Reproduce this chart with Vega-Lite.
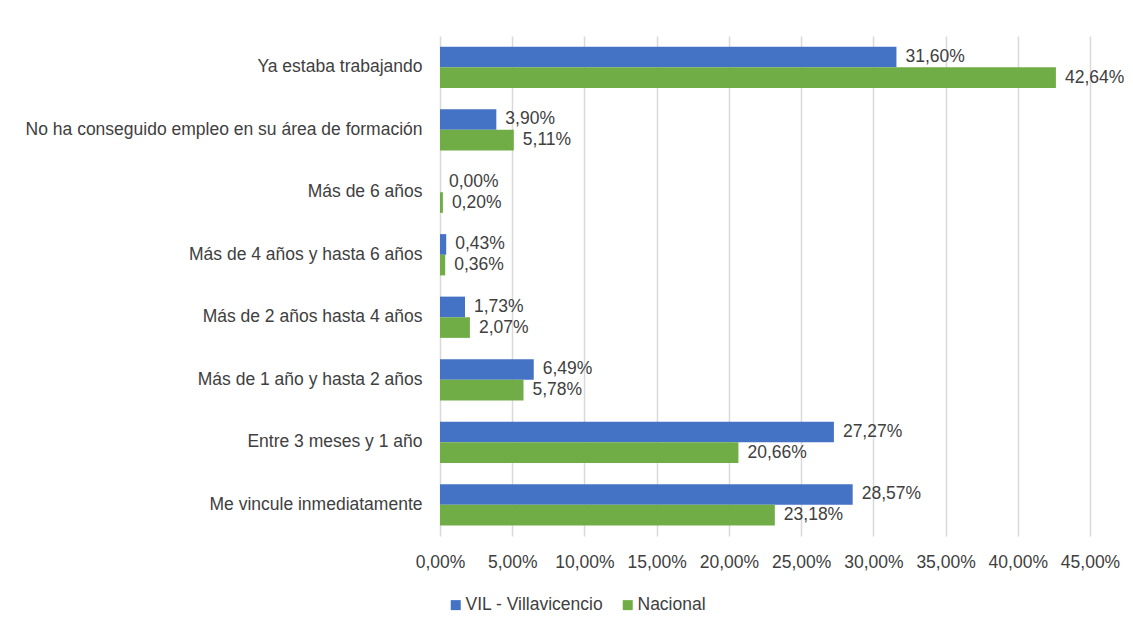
{
  "$schema": "https://vega.github.io/schema/vega-lite/v6.json",
  "autosize": "none",
  "width": 650,
  "height": 500,
  "padding": {"left": 440, "top": 36, "right": 43, "bottom": 98},
  "background": "white",
  "config": {
    "view": {"stroke": null},
    "locale": {"number": {"decimal": ",", "thousands": ".", "grouping": [3], "currency": ["$", ""]}},
    "font": "Liberation Sans"
  },
  "data": {
    "values": [
      {"categoria": "Ya estaba trabajando", "serie": "VIL - Villavicencio", "valor": 0.3160},
      {"categoria": "Ya estaba trabajando", "serie": "Nacional", "valor": 0.4264},
      {"categoria": "No ha conseguido empleo en su área de formación", "serie": "VIL - Villavicencio", "valor": 0.0390},
      {"categoria": "No ha conseguido empleo en su área de formación", "serie": "Nacional", "valor": 0.0511},
      {"categoria": "Más de 6 años", "serie": "VIL - Villavicencio", "valor": 0.0},
      {"categoria": "Más de 6 años", "serie": "Nacional", "valor": 0.0020},
      {"categoria": "Más de 4 años y hasta 6 años", "serie": "VIL - Villavicencio", "valor": 0.0043},
      {"categoria": "Más de 4 años y hasta 6 años", "serie": "Nacional", "valor": 0.0036},
      {"categoria": "Más de 2 años hasta 4 años", "serie": "VIL - Villavicencio", "valor": 0.0173},
      {"categoria": "Más de 2 años hasta 4 años", "serie": "Nacional", "valor": 0.0207},
      {"categoria": "Más de 1 año y hasta 2 años", "serie": "VIL - Villavicencio", "valor": 0.0649},
      {"categoria": "Más de 1 año y hasta 2 años", "serie": "Nacional", "valor": 0.0578},
      {"categoria": "Entre 3 meses y 1 año", "serie": "VIL - Villavicencio", "valor": 0.2727},
      {"categoria": "Entre 3 meses y 1 año", "serie": "Nacional", "valor": 0.2066},
      {"categoria": "Me vincule inmediatamente", "serie": "VIL - Villavicencio", "valor": 0.2857},
      {"categoria": "Me vincule inmediatamente", "serie": "Nacional", "valor": 0.2318}
    ]
  },
  "encoding": {
    "y": {
      "field": "categoria",
      "type": "nominal",
      "sort": ["Ya estaba trabajando", "No ha conseguido empleo en su área de formación", "Más de 6 años", "Más de 4 años y hasta 6 años", "Más de 2 años hasta 4 años", "Más de 1 año y hasta 2 años", "Entre 3 meses y 1 año", "Me vincule inmediatamente"],
      "scale": {"paddingInner": 0.34, "paddingOuter": 0.17},
      "axis": {"title": null, "domain": false, "ticks": false, "labelPadding": 18, "labelFontSize": 17.5, "labelColor": "#404040", "labelLimit": 600}
    },
    "yOffset": {
      "field": "serie",
      "type": "nominal",
      "sort": ["VIL - Villavicencio", "Nacional"]
    },
    "x": {
      "field": "valor",
      "type": "quantitative",
      "scale": {"domain": [0, 0.45], "nice": false},
      "axis": {"title": null, "format": ".2%", "values": [0, 0.05, 0.1, 0.15, 0.2, 0.25, 0.3, 0.35, 0.4, 0.45], "labelOverlap": false, "labelFlush": false, "domain": false, "ticks": false, "labelPadding": 17, "labelFontSize": 17.5, "labelColor": "#404040", "gridColor": "#d9d9d9", "gridWidth": 1.5}
    }
  },
  "layer": [
    {
      "mark": {"type": "bar"},
      "encoding": {
        "color": {
          "field": "serie",
          "type": "nominal",
          "sort": ["VIL - Villavicencio", "Nacional"],
          "scale": {"domain": ["VIL - Villavicencio", "Nacional"], "range": ["#4472C4", "#70AD47"]},
          "legend": {"title": null, "orient": "none", "direction": "horizontal", "legendX": 7, "legendY": 560, "symbolType": "square", "symbolSize": 100, "labelFontSize": 17.5, "labelColor": "#404040", "columnPadding": 15, "symbolStrokeWidth": 0, "labelOffset": 1}
        }
      }
    },
    {
      "mark": {"type": "text", "align": "left", "baseline": "middle", "dx": 9, "fontSize": 17.5, "color": "#404040"},
      "encoding": {
        "text": {"field": "valor", "type": "quantitative", "format": ".2%"}
      }
    }
  ]
}
